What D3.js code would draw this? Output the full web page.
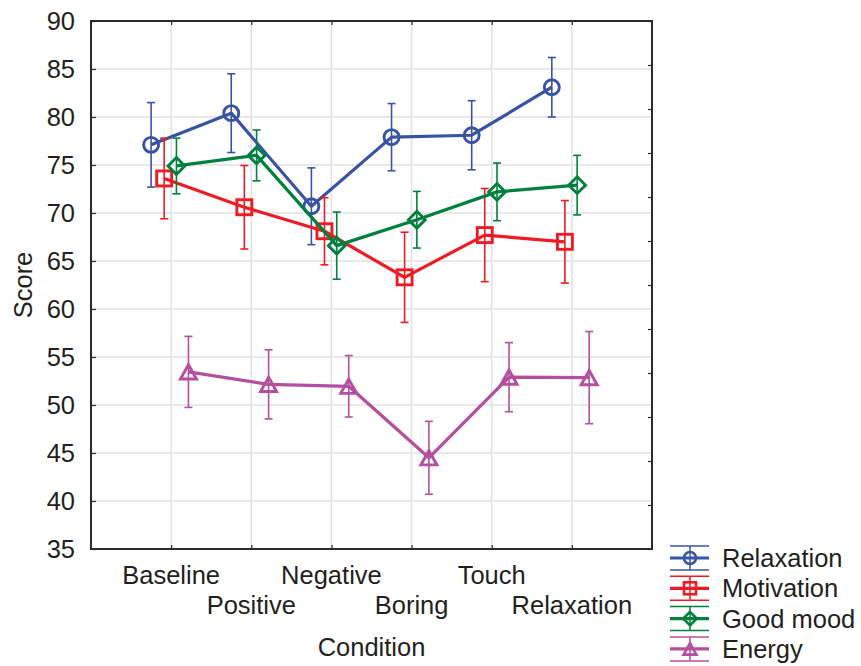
<!DOCTYPE html>
<html>
<head>
<meta charset="utf-8">
<script src="https://cdn.jsdelivr.net/npm/d3@7/dist/d3.min.js"></script>
<style>
  html, body { margin: 0; padding: 0; background: #fff; }
  svg { display: block; font-family: "Liberation Sans", Arial, Helvetica, sans-serif; }
</style>
</head>
<body>
<svg id="chart" width="861" height="666"></svg>
<script>
// ---------- data ----------
const categories = ["Baseline", "Positive", "Negative", "Boring", "Touch", "Relaxation"];
const seriesNames = ["Relaxation", "Motivation", "Good mood", "Energy"];

const relaxationMean = [77.1, 80.4, 70.7, 77.9, 78.1, 83.1];
const relaxationErr  = [4.4, 4.1, 4.0, 3.5, 3.6, 3.1];
const motivationMean = [73.6, 70.6, 68.1, 63.3, 67.7, 67.0];
const motivationErr  = [4.2, 4.35, 3.5, 4.7, 4.85, 4.3];
const goodMoodMean   = [74.9, 76.0, 66.6, 69.3, 72.2, 72.9];
const goodMoodErr    = [2.9, 2.65, 3.5, 2.95, 3.0, 3.1];
const energyMean     = [53.45, 52.15, 51.95, 44.5, 52.9, 52.85];
const energyErr      = [3.7, 3.6, 3.2, 3.8, 3.6, 4.8];

const yTicks = [35, 40, 45, 50, 55, 60, 65, 70, 75, 80, 85, 90];

// ---------- layout / style ----------
const pLeft = 91, pRight = 652, pTop = 21, pBottom = 549;
const colors = ["#3953a4", "#ed1c24", "#00803e", "#b44fa0"];
const offsets = [-0.25, -0.087, 0.066, 0.216]; // horizontal dodge in category units
const symbols = ["circle", "square", "diamond", "triangle"];
const fontSize = 25.5;

const series = [
  { name: seriesNames[0], mean: relaxationMean, err: relaxationErr },
  { name: seriesNames[1], mean: motivationMean, err: motivationErr },
  { name: seriesNames[2], mean: goodMoodMean,   err: goodMoodErr },
  { name: seriesNames[3], mean: energyMean,     err: energyErr }
];

const svg = d3.select("#chart");
const x = d3.scaleLinear().domain([0, categories.length + 1]).range([pLeft, pRight]);
const y = d3.scaleLinear().domain([35, 90]).range([pBottom, pTop]);

// grid
const grid = svg.append("g");
grid.selectAll("line.h").data(yTicks.slice(1, -1)).join("line")
  .attr("x1", pLeft).attr("x2", pRight)
  .attr("y1", d => y(d)).attr("y2", d => y(d))
  .attr("stroke", "#e1e1e1").attr("stroke-width", 1.5);
grid.selectAll("line.v").data(categories).join("line")
  .attr("x1", (d, i) => x(i + 1)).attr("x2", (d, i) => x(i + 1))
  .attr("y1", pTop).attr("y2", pBottom)
  .attr("stroke", "#e1e1e1").attr("stroke-width", 1.5);

// axes
const axisColor = "#2b2b2b";
const yAxis = svg.append("g").attr("transform", `translate(${pLeft},0)`)
  .call(d3.axisLeft(y).tickValues(yTicks).tickSize(-5).tickPadding(16).tickFormat(d3.format("d")));
yAxis.select(".domain").remove();
yAxis.selectAll("line").attr("stroke", axisColor).attr("stroke-width", 1.2);
yAxis.selectAll("text").attr("font-size", fontSize).attr("fill", "#231f20")
  .attr("font-family", "Liberation Sans, Arial, sans-serif");

const rightScale = d3.scaleLinear().domain([0, 12]).range([pBottom, pTop]);
const rAxis = svg.append("g").attr("transform", `translate(${pRight},0)`)
  .call(d3.axisRight(rightScale).ticks(12).tickSize(-4).tickFormat(""));
rAxis.select(".domain").remove();
rAxis.selectAll("line").attr("stroke", axisColor).attr("stroke-width", 1.2);

const catTicks = categories.map((c, i) => i + 1);
const bAxis = svg.append("g").attr("transform", `translate(0,${pBottom})`)
  .call(d3.axisBottom(x).tickValues(catTicks).tickSize(-4).tickFormat(""));
bAxis.select(".domain").remove();
bAxis.selectAll("line").attr("stroke", axisColor).attr("stroke-width", 1.2);
const tAxis = svg.append("g").attr("transform", `translate(0,${pTop})`)
  .call(d3.axisTop(x).tickValues(catTicks).tickSize(-4).tickFormat(""));
tAxis.select(".domain").remove();
tAxis.selectAll("line").attr("stroke", axisColor).attr("stroke-width", 1.2);

svg.append("rect").attr("x", pLeft).attr("y", pTop)
  .attr("width", pRight - pLeft).attr("height", pBottom - pTop)
  .attr("fill", "none").attr("stroke", axisColor).attr("stroke-width", 2);

// category labels (staggered)
svg.append("g").selectAll("text").data(categories).join("text")
  .attr("x", (d, i) => x(i + 1))
  .attr("y", (d, i) => i % 2 === 0 ? 583.5 : 613.5)
  .attr("text-anchor", "middle").attr("font-size", fontSize).attr("fill", "#231f20")
  .text(d => d);

svg.append("text").attr("x", (pLeft + pRight) / 2).attr("y", 656)
  .attr("text-anchor", "middle").attr("font-size", fontSize).attr("fill", "#231f20")
  .text("Condition");
svg.append("text").attr("transform", `translate(32,${(pTop + pBottom) / 2}) rotate(-90)`)
  .attr("text-anchor", "middle").attr("font-size", fontSize).attr("fill", "#231f20")
  .text("Score");

// marker drawing
function drawMarker(g, type, color, size, sw) {
  if (type === "circle") {
    g.append("circle").attr("r", size).attr("fill", "none").attr("stroke", color).attr("stroke-width", sw);
  } else if (type === "square") {
    g.append("rect").attr("x", -size).attr("y", -size).attr("width", 2 * size).attr("height", 2 * size)
      .attr("fill", "none").attr("stroke", color).attr("stroke-width", sw);
  } else if (type === "diamond") {
    const s = size * 1.12;
    g.append("path").attr("d", `M0,${-s}L${s},0L0,${s}L${-s},0Z`)
      .attr("fill", "none").attr("stroke", color).attr("stroke-width", sw);
  } else {
    const h = size * 0.95, w = size * 1.07;
    g.append("path").attr("d", `M0,${-h}L${w},${h}L${-w},${h}Z`)
      .attr("fill", "none").attr("stroke", color).attr("stroke-width", sw);
  }
}

const line = d3.line().x(d => d.x).y(d => d.y);

series.forEach((s, si) => {
  const color = colors[si];
  const pts = s.mean.map((m, i) => ({ x: x(i + 1 + offsets[si]), y: y(m), lo: y(m - s.err[i]), hi: y(m + s.err[i]) }));
  const g = svg.append("g");
  const eb = g.append("g").attr("stroke", color).attr("stroke-width", 1.6);
  pts.forEach(p => {
    eb.append("line").attr("x1", p.x).attr("x2", p.x).attr("y1", p.lo).attr("y2", p.hi);
    eb.append("line").attr("x1", p.x - 4).attr("x2", p.x + 4).attr("y1", p.lo).attr("y2", p.lo);
    eb.append("line").attr("x1", p.x - 4).attr("x2", p.x + 4).attr("y1", p.hi).attr("y2", p.hi);
  });
  g.append("path").datum(pts).attr("d", line)
    .attr("fill", "none").attr("stroke", color).attr("stroke-width", 3.2).attr("stroke-linejoin", "round");
  pts.forEach(p => {
    const mg = g.append("g").attr("transform", `translate(${p.x},${p.y})`);
    drawMarker(mg, symbols[si], color, 7.5, 2.9);
  });
});

// legend
const legend = svg.append("g");
series.forEach((s, si) => {
  const color = colors[si];
  const cy = 558 + si * 30.3;
  const g = legend.append("g").attr("transform", `translate(690,${cy})`);
  g.append("line").attr("x1", -20).attr("x2", 19).attr("y1", -12).attr("y2", -12).attr("stroke", color).attr("stroke-width", 1.5);
  g.append("line").attr("x1", -20).attr("x2", 19).attr("y1", 12).attr("y2", 12).attr("stroke", color).attr("stroke-width", 1.5);
  g.append("line").attr("x1", 0).attr("x2", 0).attr("y1", -12).attr("y2", 12).attr("stroke", color).attr("stroke-width", 1.5);
  g.append("line").attr("x1", -20).attr("x2", 19).attr("y1", 0).attr("y2", 0).attr("stroke", color).attr("stroke-width", 3.2);
  drawMarker(g, symbols[si], color, 6, 2.6);
  legend.append("text").attr("x", 722).attr("y", cy).attr("dy", "0.36em")
    .attr("font-size", fontSize).attr("fill", "#231f20").text(s.name);
});
</script>
</body>
</html>
